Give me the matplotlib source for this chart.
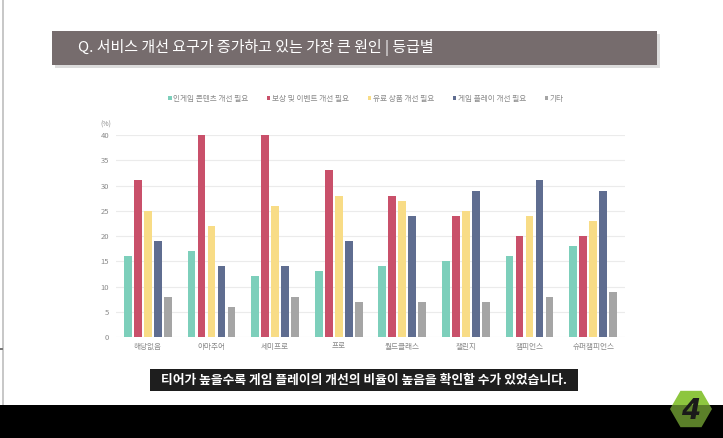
import numpy as np
import matplotlib.pyplot as plt
from matplotlib.patches import Rectangle, RegularPolygon

plt.rcParams['font.family'] = ['Noto Sans CJK KR', 'DejaVu Sans']

tiers = ["해당없음", "아마추어", "세미프로", "프로", "월드클래스", "챌린지", "챔피언스", "슈퍼챔피언스"]
series_names = ["인게임 콘텐츠 개선 필요", "보상 및 이벤트 개선 필요", "유료 상품 개선 필요",
                "게임 플레이 개선 필요", "기타"]
ingame = [16, 17, 12, 13, 14, 15, 16, 18]
reward = [31, 40, 40, 33, 28, 24, 20, 20]
paid = [25, 22, 26, 28, 27, 25, 24, 23]
gameplay = [19, 14, 14, 19, 24, 29, 31, 29]
etc = [8, 6, 8, 7, 7, 7, 8, 9]
colors = ["#7dcfbb", "#c9506a", "#f8dc86", "#5f6d90", "#a5a5a5"]

title = "Q. 서비스 개선 요구가 증가하고 있는 가장 큰 원인 | 등급별"
caption = "티어가 높을수록 게임 플레이의 개선의 비율이 높음을 확인할 수가 있었습니다."

W, H = 723, 438
fig = plt.figure(figsize=(W / 100, H / 100), dpi=100)
fig.patch.set_facecolor("white")

# overlay in pixel coordinates for the screen decorations
deco = fig.add_axes([0, 0, 1, 1], zorder=0)
deco.set_xlim(0, W)
deco.set_ylim(H, 0)
deco.axis("off")

deco.add_patch(Rectangle((2, 0), 1.5, 405, color="#c8c8c8", lw=0))
deco.add_patch(Rectangle((0, 348), 3, 1.5, color="#777777", lw=0))

# title banner with shadow
deco.add_patch(Rectangle((55, 34), 605, 34, color="#dcdcdc", lw=0))
deco.add_patch(Rectangle((52, 31), 605, 34, color="#766c6d", lw=0))
deco.text(78, 48, title, color="white", fontsize=10.8, fontweight="medium",
          va="center", ha="left")

# caption box
deco.add_patch(Rectangle((150, 369), 428, 22, color="#1e1e1e", lw=0))
deco.text(364, 380, caption, color="white", fontsize=9.2, fontweight="bold",
          ha="center", va="center")

# bottom band and logo
deco.add_patch(Rectangle((0, 405), W, 33, color="black", lw=0))
deco.add_patch(RegularPolygon((691, 409), numVertices=6, radius=21,
                              orientation=np.pi / 6, color="#8dc63f", lw=0))
deco.add_patch(Rectangle((669, 405), 45, 33, color="black", alpha=0.35, lw=0))
deco.text(691, 411, "4", color="#1a1a1a", fontsize=20, fontweight="bold",
          fontstyle="italic", ha="center", va="center", family="DejaVu Sans")

# chart
ax = fig.add_axes([116 / W, 1 - 337 / H, 509 / W, 202 / H], zorder=1)
ax.patch.set_alpha(0)
x = np.arange(len(tiers))
data = [ingame, reward, paid, gameplay, etc]
step = 0.157
width = 0.122
for i, (vals, c, name) in enumerate(zip(data, colors, series_names)):
    ax.bar(x + (i - 2) * step, vals, width, color=c, label=name, zorder=3)

ax.set_xlim(-0.5, len(tiers) - 0.5)
ax.set_ylim(0, 40)
ax.set_yticks(range(0, 41, 5))
ax.set_xticks(x)
ax.set_xticklabels(tiers)
ax.tick_params(axis="both", length=0, labelsize=5.5, colors="#8a8a8a")
ax.tick_params(axis="y", pad=5)
ax.tick_params(axis="x", pad=4)
ax.grid(axis="y", color="#ebebeb", linewidth=0.8, zorder=0)
for s in ax.spines.values():
    s.set_visible(False)
ax.text(-0.01, 1.05, "(%)", transform=ax.transAxes, fontsize=5, color="#8a8a8a",
        ha="right", va="center")

ax.legend(loc="center", bbox_to_anchor=((366 - 116) / 509, 1 + 36 / 202), ncol=5,
          frameon=False, fontsize=5.5, handlelength=0.45, handleheight=0.45,
          handletextpad=0.25, columnspacing=2.4, labelcolor="#8a8a8a")

fig.savefig("out.png", dpi=100)
